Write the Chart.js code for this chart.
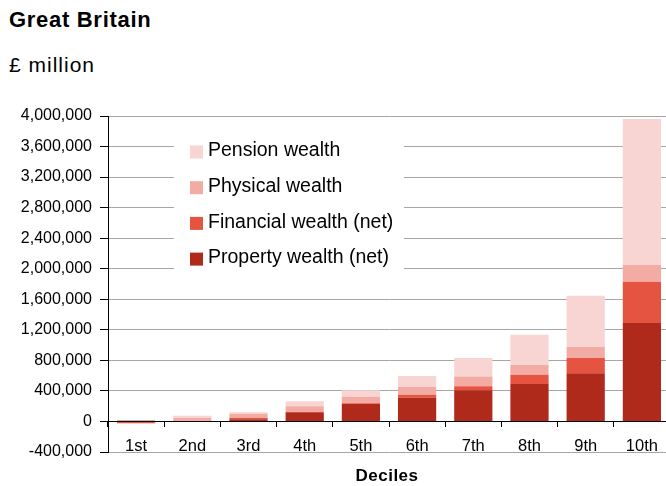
<!DOCTYPE html>
<html>
<head>
<meta charset="utf-8">
<script src="https://cdn.jsdelivr.net/npm/chart.js@4.4.1/dist/chart.umd.min.js"></script>
<style>
    body { margin: 0; overflow: hidden; background: #fff; font-family: "Liberation Sans", Arial, sans-serif; color: #000; }
    #wrap { position: relative; width: 666px; height: 486px; overflow: hidden; }
    #wealthChart { position: absolute; left: 0; top: 0; }
    .chart-title { position: absolute; left: 9px; top: 7px; font-size: 22px; font-weight: bold; letter-spacing: 0.7px; }
    .chart-unit { position: absolute; left: 9px; top: 53px; font-size: 21px; letter-spacing: 1px; }
    .axis-title { position: absolute; left: 337px; width: 100px; top: 466px; text-align: center; font-size: 17px; font-weight: bold; letter-spacing: 0.5px; }
</style>
</head>
<body>
<div id="wrap">
    <div class="chart-title">Great Britain</div>
    <div class="chart-unit">£ million</div>
    <canvas id="wealthChart" width="672" height="486"></canvas>
    <div class="axis-title">Deciles</div>
</div>
<script>
// Aggregate wealth by decile, £ million
const deciles = ['1st', '2nd', '3rd', '4th', '5th', '6th', '7th', '8th', '9th', '10th'];
const propertyWealth  = [10000, 5000, 30000, 120000, 230000, 310000, 410000, 490000, 630000, 1290000];
const financialWealth = [-25000, 0, 20000, 5000, 10000, 40000, 50000, 120000, 200000, 540000];
const physicalWealth  = [5000, 40000, 50000, 75000, 85000, 100000, 130000, 130000, 145000, 220000];
const pensionWealth   = [2000, 30000, 20000, 65000, 85000, 145000, 240000, 395000, 670000, 1910000];
const yTicks = [-400000, 0, 400000, 800000, 1200000, 1600000, 2000000, 2400000, 2800000, 3200000, 3600000, 4000000];

const FONT = '"Liberation Sans", Arial, sans-serif';

// White box with the series keys, drawn inside the plot area
const legendBox = {
    id: 'legendBox',
    afterDraw(chart) {
        const ctx = chart.ctx;
        ctx.save();
        ctx.fillStyle = '#fff';
        ctx.fillRect(174, 126, 230, 156);
        const items = chart.data.datasets.slice().reverse();
        ctx.font = '19.5px ' + FONT;
        ctx.textBaseline = 'middle';
        items.forEach(function(ds, i) {
            const cy = 152 + i * 35.7;
            ctx.fillStyle = ds.backgroundColor;
            ctx.fillRect(190, cy - 6.5, 13, 13);
            ctx.fillStyle = '#000';
            ctx.fillText(ds.label, 208, cy - 1);
        });
        ctx.restore();
    }
};

new Chart(document.getElementById('wealthChart'), {
    type: 'bar',
    data: {
        labels: deciles,
        datasets: [
            { label: 'Property wealth (net)', data: propertyWealth, backgroundColor: '#b02a1c' },
            { label: 'Financial wealth (net)', data: financialWealth, backgroundColor: '#e55441' },
            { label: 'Physical wealth', data: physicalWealth, backgroundColor: '#f2aca4' },
            { label: 'Pension wealth', data: pensionWealth, backgroundColor: '#f8d5d2' }
        ]
    },
    options: {
        responsive: false,
        animation: false,
        layout: {
            padding: { left: 0, right: 2, top: 116, bottom: 34 }
        },
        datasets: {
            bar: {
                categoryPercentage: 1,
                barPercentage: 0.68,
                borderWidth: 0
            }
        },
        plugins: {
            legend: { display: false },
            tooltip: { enabled: false }
        },
        scales: {
            x: {
                stacked: true,
                position: { y: 0 },
                grid: {
                    drawOnChartArea: false,
                    offset: true,
                    tickLength: 5,
                    tickColor: '#000'
                },
                border: { color: '#000' },
                ticks: {
                    color: '#000',
                    padding: 10,
                    font: { family: FONT, size: 16.5 }
                }
            },
            y: {
                stacked: true,
                min: -400000,
                max: 4000000,
                afterBuildTicks: function(scale) {
                    scale.ticks = yTicks.map(function(v) { return { value: v }; });
                },
                afterFit: function(scale) {
                    scale.width = 108;
                },
                grid: {
                    color: function(context) {
                        return context.tick && context.tick.value === 0 ? '#000' : '#a6a6a6';
                    },
                    tickLength: 8,
                    tickColor: '#000'
                },
                border: { color: '#000' },
                ticks: {
                    color: '#000',
                    padding: 8,
                    font: { family: FONT, size: 16 },
                    callback: function(value) {
                        return value.toLocaleString('en-GB');
                    }
                }
            }
        }
    },
    plugins: [legendBox]
});
</script>
</body>
</html>
